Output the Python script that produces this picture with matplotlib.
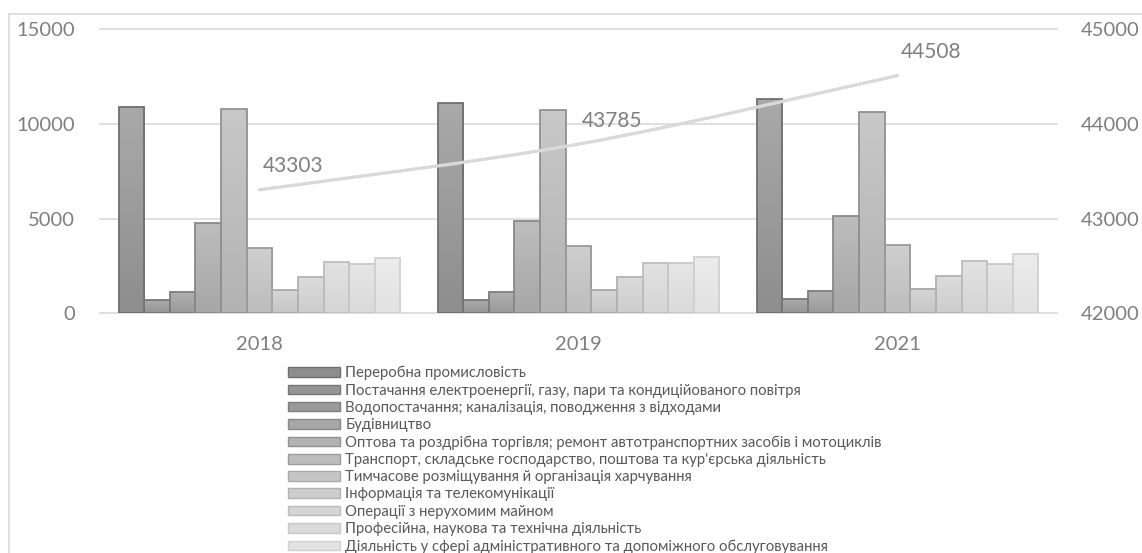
import numpy as np
import matplotlib
matplotlib.use("Agg")
import matplotlib.pyplot as plt
from matplotlib.colors import LinearSegmentedColormap
from matplotlib.lines import Line2D
from matplotlib.patches import Rectangle, Path, PathPatch

plt.rcParams['font.family'] = ['Lato', 'DejaVu Sans']

# ---- data -------------------------------------------------------------
years = ["2018", "2019", "2021"]

sectors = [
    "Переробна промисловість",
    "Постачання електроенергії, газу, пари та кондиційованого повітря",
    "Водопостачання; каналізація, поводження з відходами",
    "Будівництво",
    "Оптова та роздрібна торгівля; ремонт автотранспортних засобів і мотоциклів",
    "Транспорт, складське господарство, поштова та кур'єрська діяльність",
    "Тимчасове розміщування й організація харчування",
    "Інформація та телекомунікації",
    "Операції з нерухомим майном",
    "Професійна, наукова та технічна діяльність",
    "Діяльність у сфері адміністративного та допоміжного обслуговування",
]

# values per sector, one entry per year (2018, 2019, 2021)
manufacturing   = [10890, 11070, 11290]
energy          = [690, 690, 740]
water           = [1120, 1120, 1160]
construction    = [4770, 4850, 5150]
trade           = [10770, 10710, 10610]
transport       = [3450, 3550, 3590]
accommodation   = [1250, 1210, 1270]
information     = [1920, 1900, 1950]
real_estate     = [2690, 2660, 2760]
professional    = [2620, 2660, 2620]
administrative  = [2920, 2990, 3130]

sector_values = [manufacturing, energy, water, construction, trade, transport,
                 accommodation, information, real_estate, professional,
                 administrative]

total = [43303, 43785, 44508]

# ---- styles -----------------------------------------------------------
top_cols = ["#a9a9a9", "#adadad", "#b1b1b1", "#bdbdbd", "#c8c8c8", "#cfcfcf",
            "#d6d6d6", "#dcdcdc", "#e2e2e2", "#e6e6e6", "#ececec"]
bot_cols = ["#8e8e8e", "#949494", "#9a9a9a", "#a7a7a7", "#b3b3b3", "#bdbdbd",
            "#c6c6c6", "#cdcdcd", "#d5d5d5", "#dadada", "#e2e2e2"]
edge_cols = ["#6f6f6f", "#767676", "#7d7d7d", "#898989", "#919191", "#9b9b9b",
             "#a8a8a8", "#b2b2b2", "#bdbdbd", "#c7c7c7", "#d1d1d1"]
text_col = "#7f7f7f"
grid_col = "#d9d9d9"

W, H = 1142, 553
fig = plt.figure(figsize=(W / 100, H / 100), dpi=100)

L, R, T, B = 100, 1057, 29, 313.3
ax = fig.add_axes([L / W, 1 - B / H, (R - L) / W, (B - T) / H])

n = len(sectors)
x = np.arange(len(years))
group = 0.884
bw = group / n

bar_sets = []
for i, vals in enumerate(sector_values):
    off = -group / 2 + bw * (i + 0.5)
    bars = ax.bar(x + off, vals, width=bw, facecolor="none",
                  edgecolor=edge_cols[i], linewidth=1.3, zorder=3,
                  label=sectors[i])
    bar_sets.append(bars)

ax.set_xlim(-0.5, len(years) - 0.5)
ax.set_ylim(0, 15000)

# vertical gradient fill for every bar
grad = np.linspace(0, 1, 64).reshape(-1, 1)
for i, bars in enumerate(bar_sets):
    cmap = LinearSegmentedColormap.from_list(f"g{i}", [bot_cols[i], top_cols[i]])
    for p in bars:
        x0, y0 = p.get_x(), p.get_y()
        im = ax.imshow(grad, extent=[x0, x0 + p.get_width(), y0, y0 + p.get_height()],
                       origin="lower", aspect="auto", cmap=cmap, zorder=2.9,
                       interpolation="bilinear")
        im.set_clip_path(p)
ax.set_xlim(-0.5, len(years) - 0.5)
ax.set_ylim(0, 15000)

ax.set_yticks([0, 5000, 10000, 15000])
ax.set_xticks(x)
ax.set_xticklabels(years)
ax.tick_params(axis="both", length=0, labelsize=14.5, labelcolor=text_col)
ax.tick_params(axis="y", pad=18)
ax.tick_params(axis="x", pad=16)
ax.yaxis.grid(True, color=grid_col, linewidth=1.2)
ax.set_axisbelow(True)
for gl in ax.get_ygridlines():
    gl.set_clip_on(False)
for s in ax.spines.values():
    s.set_visible(False)

# secondary axis: total, drawn as a smoothed line
ax2 = ax.twinx()
ax2.set_ylim(42000, 45000)
ax2.set_yticks([42000, 43000, 44000, 45000])
ax2.tick_params(axis="y", length=0, labelsize=14.5, labelcolor=text_col, pad=17)
for s in ax2.spines.values():
    s.set_visible(False)

pts = np.column_stack([x, total]).astype(float)
verts = [pts[0]]
codes = [Path.MOVETO]
for k in range(len(pts) - 1):
    p_prev = pts[k - 1] if k > 0 else pts[k]
    p_next = pts[k + 2] if k + 2 < len(pts) else pts[k + 1]
    c1 = pts[k] + (pts[k + 1] - p_prev) / 6
    c2 = pts[k + 1] - (p_next - pts[k]) / 6
    verts += [c1, c2, pts[k + 1]]
    codes += [Path.CURVE4] * 3
ax2.add_patch(PathPatch(Path(verts, codes), facecolor="none",
                        edgecolor=grid_col, linewidth=2.4, zorder=5,
                        capstyle="round"))
for xi, v in zip(x, total):
    ax2.annotate(f"{v}", (xi, v), xytext=(24, 17), textcoords="offset points",
                 ha="center", va="center", fontsize=15, color=text_col, zorder=6)

# legend below the chart
handles = [Rectangle((0, 0), 1, 1, facecolor=bot_cols[i], edgecolor=edge_cols[i],
                     linewidth=1.0) for i in range(n)]
fig.legend(handles, sectors, loc="upper left",
           bbox_to_anchor=(288 / W, 1 - 366 / H), frameon=False,
           fontsize=10.7, labelcolor="#595959", handlelength=3.5,
           handleheight=0.62, handletextpad=0.35, labelspacing=0.22,
           borderpad=0, borderaxespad=0)

# chart frame
fig.add_artist(Line2D([8.5 / W, 8.5 / W], [0, 1 - 13.5 / H], color=grid_col,
                      linewidth=1.2, transform=fig.transFigure))
fig.add_artist(Line2D([8.5 / W, 1], [1 - 13.5 / H, 1 - 13.5 / H], color=grid_col,
                      linewidth=1.2, transform=fig.transFigure))

fig.savefig("out.png", dpi=100)
